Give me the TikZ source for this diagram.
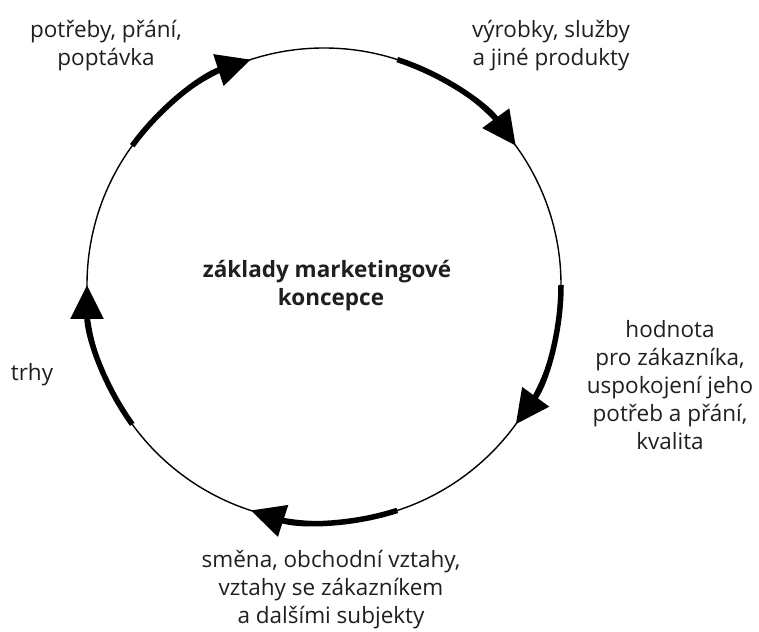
\documentclass[tikz,border=0pt]{standalone}
\usepackage{fontspec}
\setmainfont{Open Sans}
\usetikzlibrary{arrows.meta}

\begin{document}
\begin{tikzpicture}[x=1pt, y=1pt,
  label/.style={font=\fontsize{22.5}{28}\selectfont, text=black!88, align=center, inner sep=0pt},
  title/.style={label, font=\fontsize{22.5}{28}\selectfont\bfseries},
  flow/.style={line width=5.5pt, -{Triangle[length=34pt,width=32pt]}}]
  \useasboundingbox (0,0) rectangle (759,631);

  \node [draw, circle, line width=1.4pt, minimum size=474pt, inner sep=0pt, outer sep=0pt] (ring) at (324,346) {};

  % thick arcs with arrow heads, clockwise
  \foreach \a in {144,72,0,-72,-144}
    \draw[flow] (ring.\a) arc[start angle=\a, end angle=\a-36, radius=237pt];

  \node [label] (needs) at (106,585) {potřeby, přání,\\poptávka};
  \node [label] (products) at (551,585) {výrobky, služby\\a jiné produkty};
  \node [label] (value) at (670,246) {hodnota\\pro zákazníka,\\uspokojení jeho\\potřeb a přání,\\kvalita};
  \node [label] (exchange) at (331,41) {směna, obchodní vztahy,\\vztahy se zákazníkem\\a dalšími subjekty};
  \node [label] (markets) at (32,256) {trhy};

  \node [title] (concept) at (327,359) {základy marketingové};
  \node [title] (concept2) at (331,331) {koncepce};
\end{tikzpicture}
\end{document}
